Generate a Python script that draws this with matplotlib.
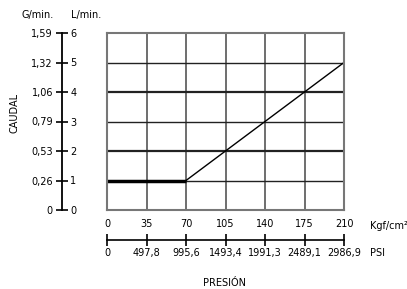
#- Imports:

import numpy as np
import matplotlib.pyplot as plt


#- Data:

kgf_ticks = [0, 35, 70, 105, 140, 175, 210]
psi_labels = ["0", "497,8", "995,6", "1493,4", "1991,3", "2489,1", "2986,9"]
lmin_ticks = [0, 1, 2, 3, 4, 5, 6]
gmin_labels = ["0", "0,26", "0,53", "0,79", "1,06", "1,32", "1,59"]

# curve: pressure (Kgf/cm2) vs flow (L/min)
flat_x = [0, 70]
flat_y = [1, 1]
ramp_x = [70, 210]
ramp_y = [1, 5]


#- Figure and layout (pixel positions of the reference):

W, H = 407, 289
fig = plt.figure(figsize=(W / 100, H / 100), dpi=100)
plt.rcParams['font.family'] = 'DejaVu Sans'
fs = 7

def box(x0, y0, x1, y1):
    return [x0 / W, 1 - y1 / H, (x1 - x0) / W, (y1 - y0) / H]

left, right, top, bottom = 107, 344, 33, 210


#- Main grid:

ax = fig.add_axes(box(left, top, right, bottom))
ax.set_xlim(0, 210)
ax.set_ylim(0, 6)
ax.set_xticks(kgf_ticks)
ax.set_yticks(lmin_ticks)
ax.tick_params(length=0, labelbottom=False, labelleft=False)
for x in kgf_ticks[1:-1]:
    ax.axvline(x, color='#555555', lw=1.2)
for y in lmin_ticks[1:-1]:
    lw = 1.6 if y in (2, 4) else 1.0
    ax.axhline(y, color='#222222', lw=lw)
for s in ax.spines.values():
    s.set_color('#777777')
    s.set_linewidth(1.5)
ax.plot(flat_x, flat_y, color='black', lw=2.5, solid_capstyle='butt')
ax.plot(ramp_x, ramp_y, color='black', lw=1.0)


#- Left scale (G/min on the left, L/min on the right):

axg = fig.add_axes(box(62, top, 62, bottom))
axg.set_ylim(0, 6)
axg.set_xticks([])
for k in ('top', 'bottom', 'right'):
    axg.spines[k].set_visible(False)
axg.spines['left'].set_linewidth(1.3)
axg.set_yticks(lmin_ticks)
axg.set_yticklabels(gmin_labels)
axg.tick_params(axis='y', direction='inout', length=9, width=1.2,
                labelsize=fs, pad=2)

axl = fig.add_axes(box(62, top, 62, bottom))
axl.set_ylim(0, 6)
axl.set_xticks([])
axl.set_frame_on(False)
axl.patch.set_visible(False)
axl.set_yticks(lmin_ticks)
axl.tick_params(axis='y', left=False, labelleft=False, right=True,
                labelright=True, length=0, labelsize=fs, pad=6)

fig.text(38 / W, 1 - 15 / H, "G/min.", fontsize=fs, ha='center', va='center')
fig.text(86 / W, 1 - 15 / H, "L/min.", fontsize=fs, ha='center', va='center')
fig.text(15 / W, 1 - 113 / H, "CAUDAL", fontsize=fs, rotation=90,
         ha='center', va='center')


#- Bottom scale (Kgf/cm2 above, PSI below):

axp = fig.add_axes(box(left, 240, right, 240))
axp.set_xlim(0, 210)
axp.set_yticks([])
for k in ('top', 'left', 'right'):
    axp.spines[k].set_visible(False)
axp.spines['bottom'].set_linewidth(1.2)
axp.set_xticks(kgf_ticks)
axp.set_xticklabels(psi_labels)
axp.tick_params(axis='x', direction='inout', length=8, width=1.2,
                labelsize=fs, pad=2, labeltop=False)

axk = fig.add_axes(box(left, 240, right, 240))
axk.set_xlim(0, 210)
axk.set_yticks([])
axk.set_frame_on(False)
axk.patch.set_visible(False)
axk.set_xticks(kgf_ticks)
axk.tick_params(axis='x', bottom=False, labelbottom=False, top=True,
                labeltop=True, length=0, labelsize=fs, pad=8)

fig.text(370 / W, 1 - 226 / H, "Kgf/cm²", fontsize=fs, ha='left', va='center')
fig.text(370 / W, 1 - 253 / H, "PSI", fontsize=fs, ha='left', va='center')
fig.text(225 / W, 1 - 283 / H, "PRESIÓN", fontsize=fs, ha='center', va='center')

plt.savefig('out.png', dpi=100)
